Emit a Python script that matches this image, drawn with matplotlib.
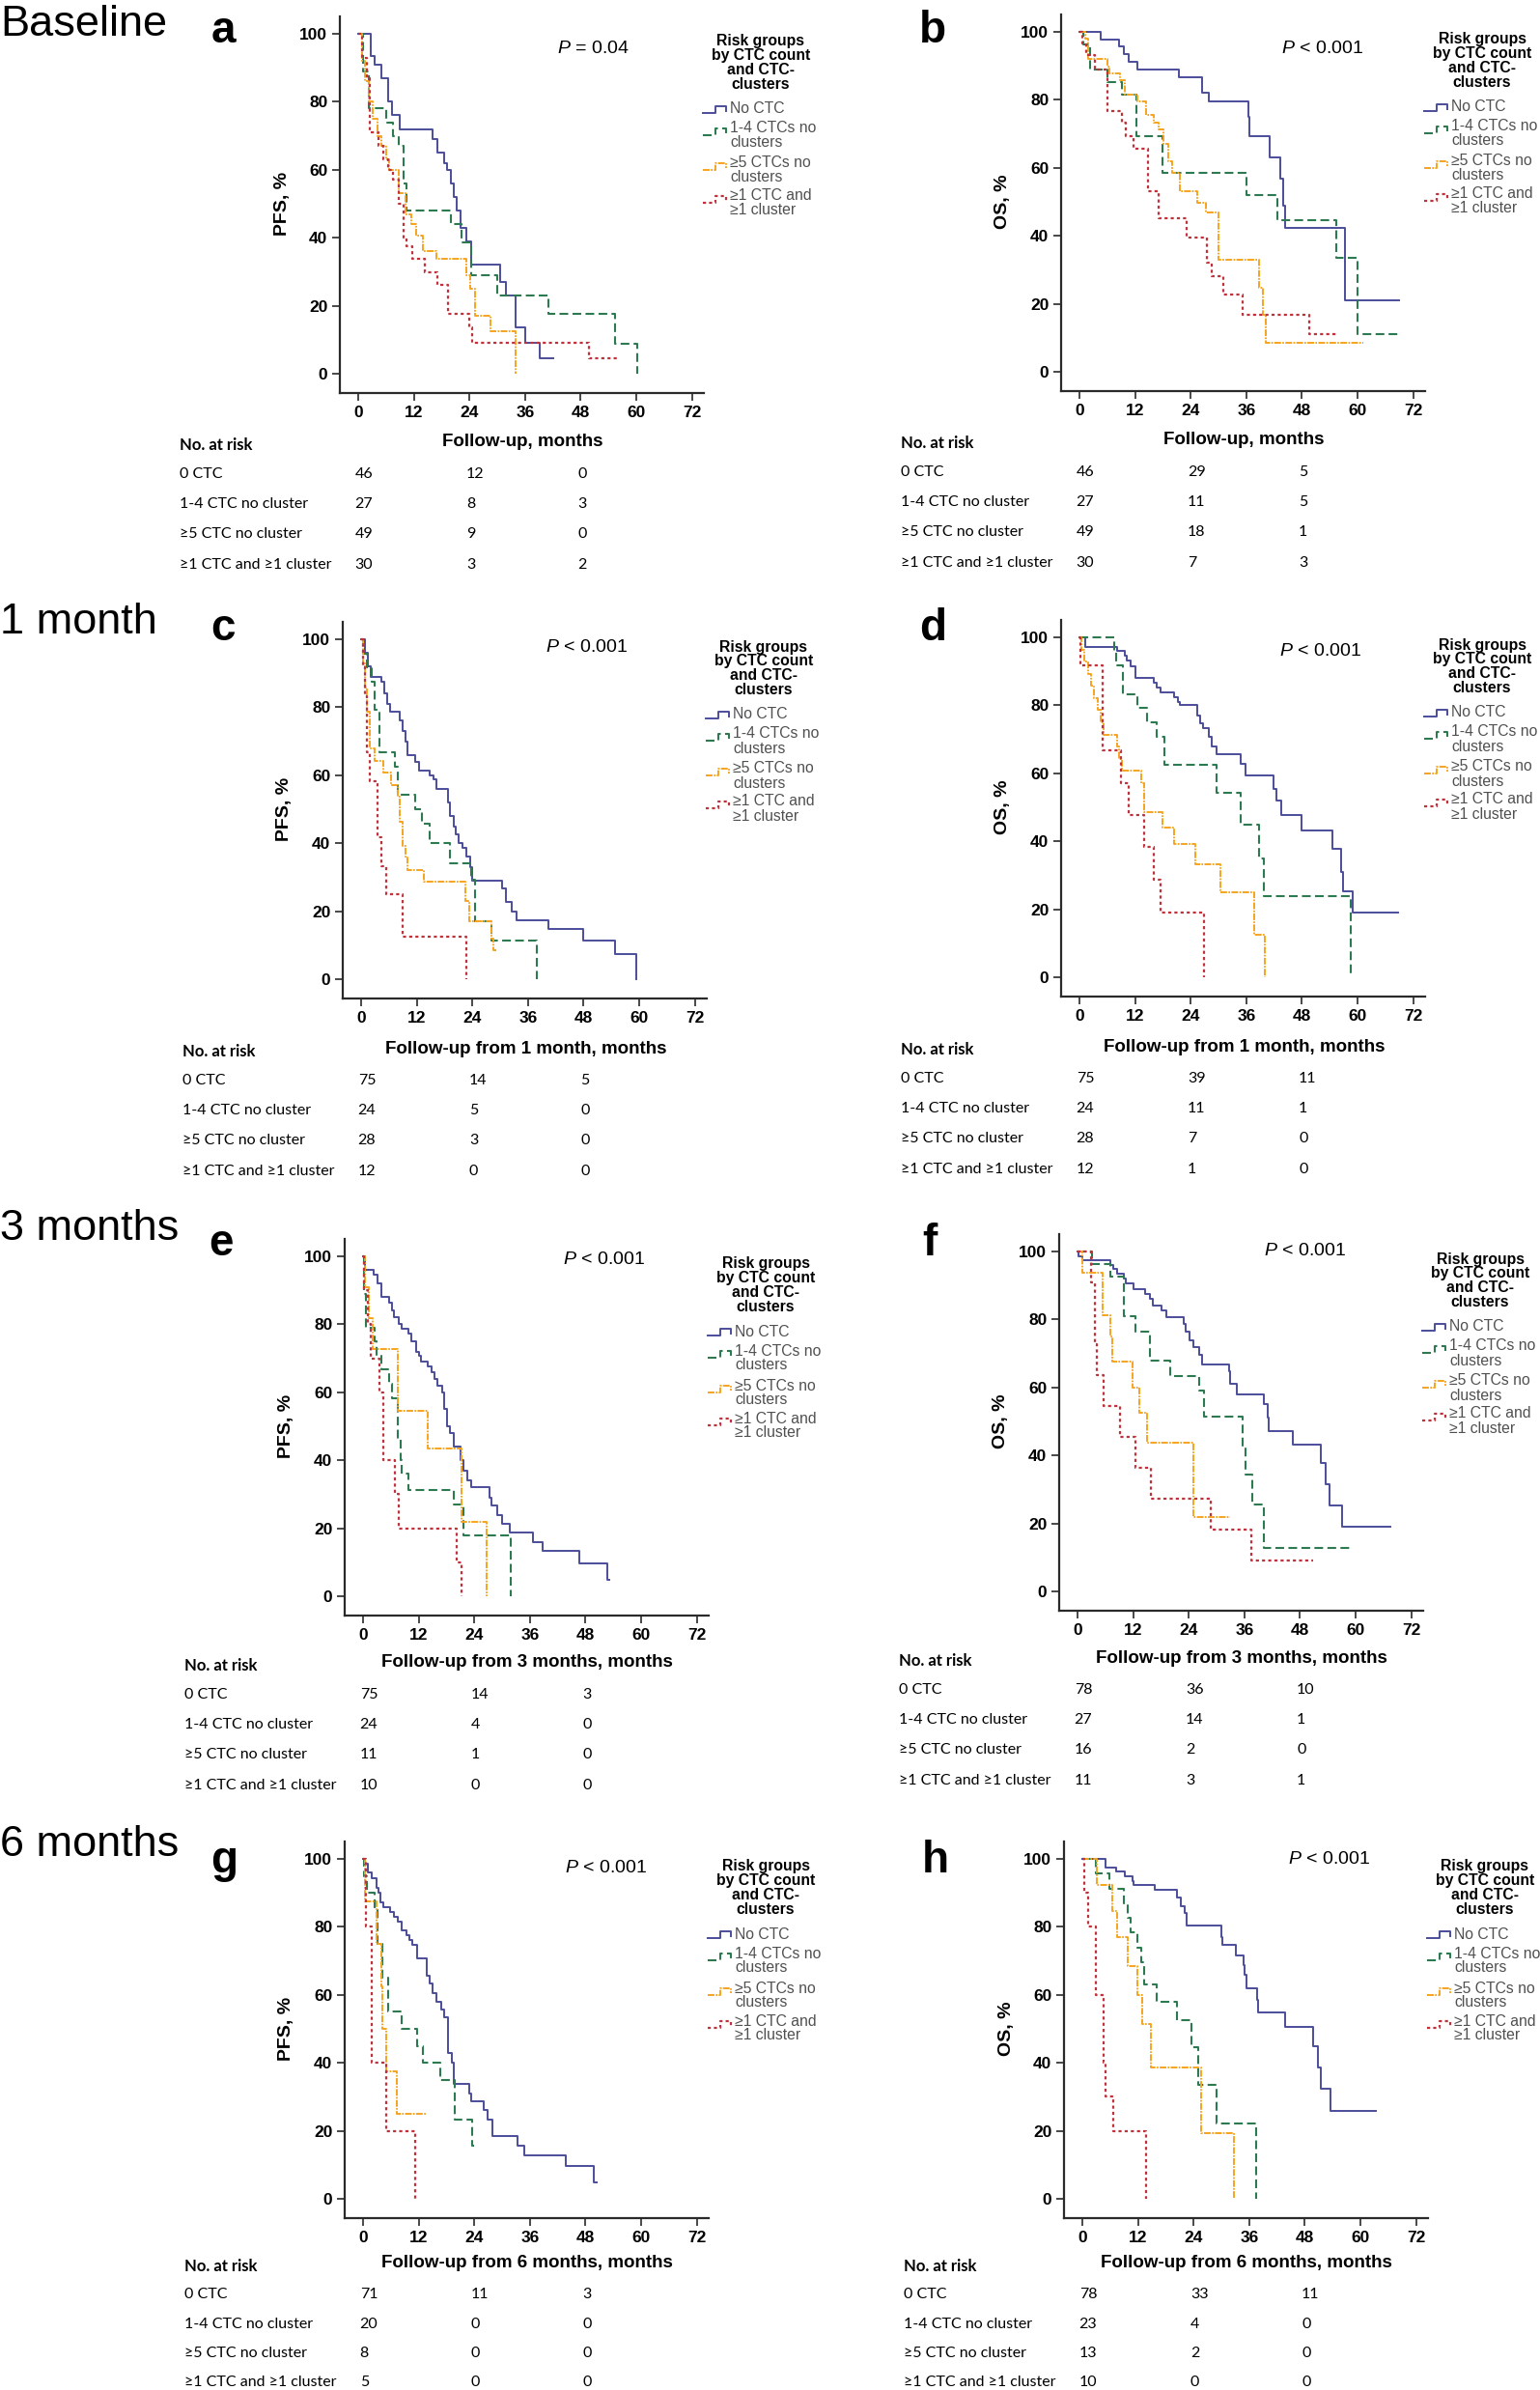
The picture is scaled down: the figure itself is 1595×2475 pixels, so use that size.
import matplotlib
matplotlib.use('Agg')
import matplotlib.pyplot as plt

plt.rcParams['font.family'] = ['Liberation Sans', 'DejaVu Sans']
plt.rcParams['mathtext.fontset'] = 'custom'
plt.rcParams['mathtext.it'] = 'Liberation Sans:italic'
plt.rcParams['mathtext.rm'] = 'Liberation Sans'
plt.rcParams['lines.scale_dashes'] = False

W, H = 1595, 2475
XMIN, XMAX, YMIN, YMAX = -4.0, 74.5, -5.8, 105.0
PPM, PPP = 4.8, 3.52   # pixels per month / per percent

# ---- data (time in months, survival in %) ----
# a: PFS baseline
a_t0 = [0, 2.8, 3.6, 5.0, 6.5, 7.3, 8.9, 16.0, 17.1, 18.6, 19.2, 20.0, 20.7, 21.3, 22.1, 23.4, 24.4, 30.7, 31.8, 33.9, 36.0, 39.2, 42.1]
a_s0 = [100, 93.5, 91, 87, 80, 76, 72, 69, 65, 62, 60, 56, 52, 48, 43, 39, 32, 27, 23, 13.5, 9, 4.5, 4.5]
a_t1 = [0, 1.0, 2.2, 6.0, 7.6, 8.8, 9.7, 10.5, 20.0, 22.3, 24.4, 29.9, 41.0, 55.5, 60.2]
a_s1 = [100, 89, 78, 74, 70, 67, 56, 48, 44, 38.5, 29, 23, 17.5, 8.7, 0]
a_t2 = [0, 0.8, 1.5, 2.3, 3.2, 4.2, 5.0, 6.0, 6.7, 8.8, 10.2, 11.4, 12.6, 13.9, 16.8, 23.4, 24.2, 25.3, 28.6, 33.9]
a_s2 = [100, 92, 86, 80, 75, 70, 67, 63, 60, 53, 47, 44, 40.5, 36, 33.7, 29, 25, 17, 12.4, 0]
a_t3 = [0, 0.8, 1.8, 2.6, 4.4, 5.5, 6.5, 7.5, 8.8, 9.7, 10.5, 11.6, 14.4, 17.1, 19.4, 23.9, 24.6, 49.7, 56.2]
a_s3 = [100, 93, 87, 71, 67, 63, 60, 57, 50, 40, 37.6, 33.7, 29.8, 26, 17.7, 13.5, 9, 4.5, 4.5]

# b: OS baseline
b_t0 = [0, 4.5, 8.5, 9.5, 10.6, 12.6, 21.5, 26.4, 28.0, 36.4, 36.6, 41.0, 43.4, 44.0, 44.4, 57.3, 68.9]
b_s0 = [100, 97.8, 95.6, 93.5, 91.1, 88.9, 86.7, 82.2, 79.6, 75, 69.3, 63, 56.8, 49, 42.2, 21, 21]
b_t1 = [0, 0.8, 2.2, 6.0, 9.2, 12.3, 17.9, 36.0, 42.8, 55.4, 59.9, 69.3]
b_s1 = [100, 96.3, 88.9, 85.2, 81.5, 69.3, 58.5, 52, 44.6, 33.5, 11, 11]
b_t2 = [0, 1.3, 1.9, 6.0, 6.5, 8.7, 9.7, 12.6, 14.4, 16.0, 17.0, 18.1, 19.1, 20.0, 21.7, 25.4, 27.3, 30.1, 38.8, 39.5, 40.3, 61.2]
b_s2 = [100, 98, 92, 89.8, 87.8, 85.7, 81.6, 79.6, 75.5, 73.4, 71.4, 67, 62, 58.5, 53, 49.6, 47, 33, 24.8, 16.8, 8.4, 8.4]
b_t3 = [0, 0.6, 1.4, 3.4, 6.0, 9.2, 9.9, 11.6, 14.7, 17.0, 23.1, 27.5, 28.5, 31.1, 35.3, 49.6, 55.7]
b_s3 = [100, 96.7, 93.3, 89, 76.6, 73.3, 69.3, 65.5, 53, 45.3, 39.6, 32, 28, 22.7, 16.8, 11, 11]

# c: PFS from 1 month
c_t0 = [0, 0.8, 1.5, 2.0, 4.4, 5.0, 5.6, 6.2, 8.4, 9.0, 9.5, 10.0, 11.7, 12.5, 14.7, 15.6, 16.2, 18.8, 19.2, 20.0, 20.5, 21.0, 21.8, 22.8, 23.6, 24.0, 30.5, 31.2, 32.5, 33.6, 40.5, 48.0, 54.8, 59.3]
c_s0 = [100, 96, 92, 89, 87.5, 84, 81, 78.7, 76, 73, 70, 66, 64, 61.3, 60, 58.7, 56, 52, 48, 45, 42.7, 40, 38.7, 36, 33, 29, 26.7, 22.7, 20, 17.3, 14.7, 11.3, 7.5, 0]
c_t1 = [0, 0.5, 1.2, 2.2, 3.0, 4.0, 7.2, 7.9, 11.7, 13.1, 14.7, 19.1, 23.7, 24.6, 28.2, 38.0]
c_s1 = [100, 95.8, 91.7, 87.5, 79.2, 66.7, 62.5, 54.2, 50, 45.8, 40, 34, 29.2, 17, 11.4, 0]
c_t2 = [0, 0.5, 0.9, 1.3, 1.9, 2.9, 4.8, 6.5, 7.9, 8.3, 9.0, 9.6, 10.1, 13.5, 22.5, 23.3, 28.2, 28.6, 29.1]
c_s2 = [100, 92.9, 85.7, 78.6, 67.9, 64.3, 60.7, 57.1, 53.6, 46.4, 39.3, 35.7, 32.1, 28.6, 23, 17.1, 12, 8.6, 8.6]
c_t3 = [0, 0.4, 0.8, 1.3, 1.9, 3.5, 4.4, 5.4, 8.9, 22.8]
c_s3 = [100, 91.7, 83.3, 66.7, 58.3, 41.7, 33.3, 25, 12.5, 0]

# d: OS from 1 month
d_t0 = [0, 1.3, 8.1, 9.8, 10.3, 11.0, 12.0, 16.0, 16.6, 17.6, 20.5, 21.2, 21.7, 25.4, 26.0, 26.6, 28.0, 28.5, 29.6, 34.8, 35.8, 41.8, 42.5, 43.5, 48.0, 54.5, 56.5, 56.8, 59.0, 68.8]
d_s0 = [100, 97.3, 96, 94.7, 93.3, 91.5, 88, 86.7, 85.3, 83.7, 82.3, 81, 80, 77, 74.7, 73.3, 70.7, 68, 65.5, 62.7, 59.3, 55.5, 52, 47.7, 43.3, 37.8, 31, 25.3, 19, 19]
d_t1 = [0, 7.4, 8.0, 9.3, 12.4, 14.6, 16.6, 18.3, 29.5, 34.8, 38.7, 39.7, 58.6]
d_s1 = [100, 95.8, 91.7, 83.3, 79.2, 75, 70.8, 62.5, 54.2, 45, 35, 24, 0]
d_t2 = [0, 0.5, 1.1, 1.8, 2.5, 3.2, 3.9, 4.6, 5.2, 8.1, 8.6, 9.2, 13.4, 13.9, 18.0, 20.5, 24.9, 30.4, 37.8, 39.9]
d_s2 = [100, 96.4, 92.9, 89.3, 85.7, 82.1, 78.6, 75, 71.4, 67.9, 64.3, 60.7, 57, 48.5, 44, 39.3, 33.3, 25, 12.5, 0]
d_t3 = [0, 0.2, 5.1, 8.9, 10.7, 13.9, 16.1, 17.5, 26.8]
d_s3 = [100, 91.7, 66.7, 57, 47.7, 38.3, 28.7, 19, 0]

# e: PFS from 3 months
e_t0 = [0, 0.4, 2.2, 3.1, 4.0, 5.6, 6.3, 6.7, 7.7, 8.4, 9.8, 10.5, 11.4, 12.0, 12.5, 14.0, 14.8, 15.4, 16.0, 17.0, 17.5, 18.2, 18.8, 19.6, 21.0, 21.6, 22.5, 23.3, 27.2, 27.8, 29.0, 30.0, 31.6, 36.6, 38.8, 46.7, 52.7, 53.2]
e_s0 = [100, 96, 94.5, 92, 88, 86.5, 84, 82, 80, 78.7, 77.3, 75, 72, 70.7, 69, 67.5, 66, 64, 62, 60, 55, 50, 48, 44, 40, 37, 34, 32, 29, 26.7, 24, 21.3, 18.7, 16, 13.3, 9.8, 4.9, 4.9]
e_t1 = [0, 0.3, 0.7, 2.4, 3.0, 4.0, 5.6, 6.3, 7.4, 8.1, 8.4, 9.8, 19.6, 21.7, 31.8]
e_s1 = [100, 89, 79, 75, 71, 66.7, 62.5, 58.3, 46, 40, 36, 31.3, 27, 18, 0]
e_t2 = [0, 0.5, 1.3, 2.1, 7.4, 13.9, 21.2, 26.6]
e_s2 = [100, 90.9, 81.8, 72.7, 54.5, 43.6, 21.8, 0]
e_t3 = [0, 0.3, 1.0, 1.7, 3.5, 4.3, 6.9, 7.7, 20.3, 21.3]
e_s3 = [100, 90, 80, 70, 60, 40, 30, 20, 10, 0]

# f: OS from 3 months
f_t0 = [0, 0.3, 1.1, 7.1, 7.8, 8.5, 9.9, 10.5, 12.0, 14.5, 15.7, 16.2, 18.2, 19.1, 22.9, 23.4, 24.2, 24.9, 26.3, 26.8, 32.8, 33.0, 34.4, 40.3, 41.0, 41.3, 46.5, 52.4, 53.5, 54.3, 57.1, 67.5]
f_s0 = [100, 98.7, 97.4, 96, 94.8, 93.5, 92, 90.7, 89, 87.5, 86, 84, 82.6, 80.6, 78.6, 76.3, 74, 72, 69.6, 66.8, 64.7, 61, 58, 55, 51, 47.3, 43.2, 37.7, 31.5, 25.4, 19, 19]
f_t1 = [0, 3.1, 7.1, 9.9, 10.1, 12.5, 15.7, 20.1, 26.3, 27.3, 35.7, 36.2, 37.8, 40.3, 59.3]
f_s1 = [100, 96.3, 92.6, 85.2, 81, 76.3, 67.8, 63.3, 59, 51.4, 42.5, 34.4, 25.7, 12.9, 12.9]
f_t2 = [0, 1.0, 5.4, 7.1, 7.5, 11.9, 13.3, 15.0, 25.1, 33.0]
f_s2 = [100, 93.75, 81.25, 75, 67.5, 60, 52.5, 43.8, 21.9, 21.9]
f_t3 = [0, 3.0, 3.7, 4.2, 5.7, 9.2, 12.5, 15.9, 28.7, 37.6, 50.8]
f_s3 = [100, 90.9, 72.7, 63.6, 54.5, 45.5, 36.4, 27.3, 18.2, 9.1, 9.1]

# g: PFS from 6 months
g_t0 = [0, 0.5, 1.0, 1.9, 3.0, 3.3, 3.7, 4.4, 5.9, 6.6, 7.6, 8.4, 9.3, 10.0, 10.7, 11.7, 13.7, 14.4, 15.1, 15.9, 16.9, 17.6, 18.4, 19.1, 19.6, 22.9, 23.4, 26.0, 26.9, 28.0, 33.4, 34.8, 43.7, 49.8, 50.5]
g_s0 = [100, 98.6, 96, 94.4, 91.5, 90, 87.3, 85.9, 84.5, 83, 81.6, 79, 77.5, 76, 74.6, 70.8, 65.6, 63.4, 60.6, 58, 55.7, 53.5, 43, 40, 33.8, 31, 28.7, 26, 23.4, 18.5, 15.6, 12.8, 9.8, 4.9, 4.9]
g_t1 = [0, 0.3, 0.9, 2.6, 3.1, 4.1, 5.5, 8.4, 11.6, 13.0, 16.6, 19.8, 23.6, 24.0]
g_s1 = [100, 95, 90, 85, 75, 65, 55, 50, 45, 40, 35, 23.3, 15.6, 15.6]
g_t2 = [0, 0.5, 2.9, 3.9, 4.1, 5.0, 7.3, 13.7]
g_s2 = [100, 87.5, 75, 62.5, 50, 37.5, 25, 25]
g_t3 = [0, 0.7, 1.9, 5.0, 11.2]
g_s3 = [100, 80, 40, 20, 0]

# h: OS from 6 months
h_t0 = [0, 5.1, 7.3, 9.2, 10.8, 11.1, 15.6, 20.5, 21.2, 22.1, 22.5, 30.0, 30.3, 33.2, 34.8, 35.1, 35.5, 37.8, 38.0, 43.8, 49.7, 50.8, 51.5, 53.5, 63.3]
h_s0 = [100, 97.4, 96.2, 94.9, 93.6, 92.3, 90.8, 88.5, 86, 84, 80.4, 77, 74.6, 71.7, 68.7, 66, 62, 58.4, 54.9, 50.6, 45, 38.6, 32.3, 25.9, 25.9]
h_t1 = [0, 3.0, 5.9, 9.0, 9.7, 10.4, 11.8, 12.7, 13.4, 16.0, 20.5, 23.6, 25.0, 29.0, 37.4]
h_s1 = [100, 95.7, 91.3, 87, 82.6, 78.3, 73.9, 69.5, 63, 58, 52.5, 44.6, 33.5, 22.3, 0]
h_t2 = [0, 3.1, 6.5, 7.6, 9.7, 11.8, 12.9, 14.8, 25.7, 32.7]
h_s2 = [100, 92.3, 84.6, 76.9, 68.5, 60, 51.3, 38.5, 19.2, 0]
h_t3 = [0, 0.5, 1.3, 3.0, 4.6, 5.0, 6.6, 13.8]
h_s3 = [100, 90, 80, 60, 40, 30, 20, 0]

# numbers at risk at 0, 24, 48 months
risk_a = [[46, 12, 0], [27, 8, 3], [49, 9, 0], [30, 3, 2]]
risk_b = [[46, 29, 5], [27, 11, 5], [49, 18, 1], [30, 7, 3]]
risk_c = [[75, 14, 5], [24, 5, 0], [28, 3, 0], [12, 0, 0]]
risk_d = [[75, 39, 11], [24, 11, 1], [28, 7, 0], [12, 1, 0]]
risk_e = [[75, 14, 3], [24, 4, 0], [11, 1, 0], [10, 0, 0]]
risk_f = [[78, 36, 10], [27, 14, 1], [16, 2, 0], [11, 3, 1]]
risk_g = [[71, 11, 3], [20, 0, 0], [8, 0, 0], [5, 0, 0]]
risk_h = [[78, 33, 11], [23, 4, 0], [13, 2, 0], [10, 0, 0]]
risk_times = [0, 24, 48]

risk_labels = ['0 CTC', '1-4 CTC no cluster', '\u22655 CTC no cluster', '\u22651 CTC and \u22651 cluster']
legend_labels = [['No CTC'], ['1-4 CTCs no', 'clusters'], ['\u22655 CTCs no', 'clusters'],
                 ['\u22651 CTC and', '\u22651 cluster']]
legend_title = ['Risk groups', 'by CTC count', 'and CTC-', 'clusters']
p_values = ['$P$ = 0.04', '$P$ < 0.001', '$P$ < 0.001', '$P$ < 0.001',
            '$P$ < 0.001', '$P$ < 0.001', '$P$ < 0.001', '$P$ < 0.001']
xlabels = ['Follow-up, months', 'Follow-up from 1 month, months',
           'Follow-up from 3 months, months', 'Follow-up from 6 months, months']
row_titles = ['Baseline', '1 month', '3 months', '6 months']

colors = ['#4b4d9b', '#2e7a50', '#f6a420', '#c0323b']
styles = ['-', (0, (6.5, 3.2)), (0, (5, 1.0, 1.2, 1.0)), (0, (2.3, 2.3))]
widths = [1.4, 1.5, 1.4, 1.6]

panels = [
    # letter, x0, y0 (px), curves, risk, ylabel, row, p-value pos, letter pos
    ('a', 371, 387, [(a_t0, a_s0), (a_t1, a_s1), (a_t2, a_s2), (a_t3, a_s3)], risk_a, 'PFS, %', 0, (50.7, 95.7), (219, 44)),
    ('b', 1118, 385, [(b_t0, b_s0), (b_t1, b_s1), (b_t2, b_s2), (b_t3, b_s3)], risk_b, 'OS, %', 0, (52.5, 95.0), (952, 44)),
    ('c', 374, 1014, [(c_t0, c_s0), (c_t1, c_s1), (c_t2, c_s2), (c_t3, c_s3)], risk_c, 'PFS, %', 1, (48.7, 97.7), (218, 663)),
    ('d', 1118, 1012, [(d_t0, d_s0), (d_t1, d_s1), (d_t2, d_s2), (d_t3, d_s3)], risk_d, 'OS, %', 1, (52.0, 95.8), (952, 663)),
    ('e', 376, 1653, [(e_t0, e_s0), (e_t1, e_s1), (e_t2, e_s2), (e_t3, e_s3)], risk_e, 'PFS, %', 2, (52.0, 98.9), (216, 1300)),
    ('f', 1116, 1648, [(f_t0, f_s0), (f_t1, f_s1), (f_t2, f_s2), (f_t3, f_s3)], risk_f, 'OS, %', 2, (49.0, 100.0), (955, 1300)),
    ('g', 376, 2277, [(g_t0, g_s0), (g_t1, g_s1), (g_t2, g_s2), (g_t3, g_s3)], risk_g, 'PFS, %', 3, (52.5, 97.4), (218, 1939)),
    ('h', 1121, 2277, [(h_t0, h_s0), (h_t1, h_s1), (h_t2, h_s2), (h_t3, h_s3)], risk_h, 'OS, %', 3, (53.3, 100.0), (955, 1939)),
]
row_title_y = [37, 656, 1284, 1922]
risk_dy = [[74, 104, 135, 166, 198], [75, 105, 136, 167, 199],
           [72, 102, 133, 164, 196], [70, 99, 130, 160, 190]]

RISK_FONT = ['Lato', 'DejaVu Sans']

fig = plt.figure(figsize=(W / 100, H / 100), dpi=100)


def ftext(x, y, s, **kw):
    fig.text(x / W, 1 - y / H, s, **kw)


for i, name in enumerate(row_titles):
    ftext(0, row_title_y[i], name, fontsize=32.5, ha='left', va='baseline')

for (letter, x0, y0, curves, risk, ylab, row, ppos, lpos) in panels:
    wpx = (XMAX - XMIN) * PPM
    hpx = (YMAX - YMIN) * PPP
    left = x0 + XMIN * PPM
    top = y0 - YMAX * PPP
    ax = fig.add_axes([left / W, 1 - (top + hpx) / H, wpx / W, hpx / H])
    ax.set_xlim(XMIN, XMAX)
    ax.set_ylim(YMIN, YMAX)
    ax.patch.set_alpha(0)
    for sp in ['top', 'right']:
        ax.spines[sp].set_visible(False)
    for sp in ['left', 'bottom']:
        ax.spines[sp].set_linewidth(1.6)
        ax.spines[sp].set_color('#2a2a2a')
    ax.set_xticks(range(0, 73, 12))
    ax.set_yticks(range(0, 101, 20))
    ax.tick_params(length=6, width=1.2, color='#2a2a2a', labelsize=12.5, pad=3)
    for lab in ax.get_xticklabels() + ax.get_yticklabels():
        lab.set_fontweight('bold')

    for k, (t, s) in enumerate(curves):
        ax.step(t, s, where='post', color=colors[k], linestyle=styles[k], lw=widths[k])

    # y label
    ax.text(-79 / PPM, 50, ylab, rotation=90, ha='center', va='center',
            fontsize=14, fontweight='bold', clip_on=False)
    # p value
    ax.text(ppos[0], ppos[1], p_values['abcdefgh'.index(letter)], ha='center', va='center', fontsize=14)

    # legend
    for j, line in enumerate(legend_title):
        ax.text(417 / PPM, 100 - (8 + 14.8 * j) / PPP, line, ha='center', va='center',
                fontsize=11.3, fontweight='bold', clip_on=False)
    entry_dy = [[78], [98, 113], [134, 149], [168, 183]]
    for k in range(4):
        for j, line in enumerate(legend_labels[k]):
            ax.text(385 / PPM, 100 - entry_dy[k][j] / PPP, line, ha='left', va='center',
                    fontsize=11.3, color='#505050', clip_on=False)
        cy = entry_dy[k][0] + (1 if k == 0 else 4)
        ix = [357, 370, 370, 381, 381]
        iy = [cy + 3, cy + 3, cy - 4, cy - 4, cy + 1]
        ax.plot([v / PPM for v in ix], [100 - v / PPP for v in iy], color=colors[k],
                linestyle=styles[k], lw=widths[k], clip_on=False)

    # x label and risk table
    dys = risk_dy[row]
    ax.text(35.5, -(dys[0] - 3) / PPP, xlabels[row], ha='center', va='center',
            fontsize=13.5, fontweight='bold', clip_on=False)
    ax.text(-185 / PPM, -dys[0] / PPP, 'No. at risk', ha='left', va='center',
            fontsize=12, fontweight='bold', family=RISK_FONT, clip_on=False)
    for k in range(4):
        yy = -dys[k + 1] / PPP
        ax.text(-185 / PPM, yy, risk_labels[k], ha='left', va='center',
                fontsize=11.5, family=RISK_FONT, clip_on=False)
        for j, tt in enumerate(risk_times):
            ax.text(tt - 0.7, yy, str(risk[k][j]), ha='left', va='center',
                    fontsize=11.5, family=RISK_FONT, clip_on=False)

    ftext(lpos[0], lpos[1], letter, fontsize=33, fontweight='bold', ha='left', va='baseline')

fig.savefig('out.png', dpi=100)
